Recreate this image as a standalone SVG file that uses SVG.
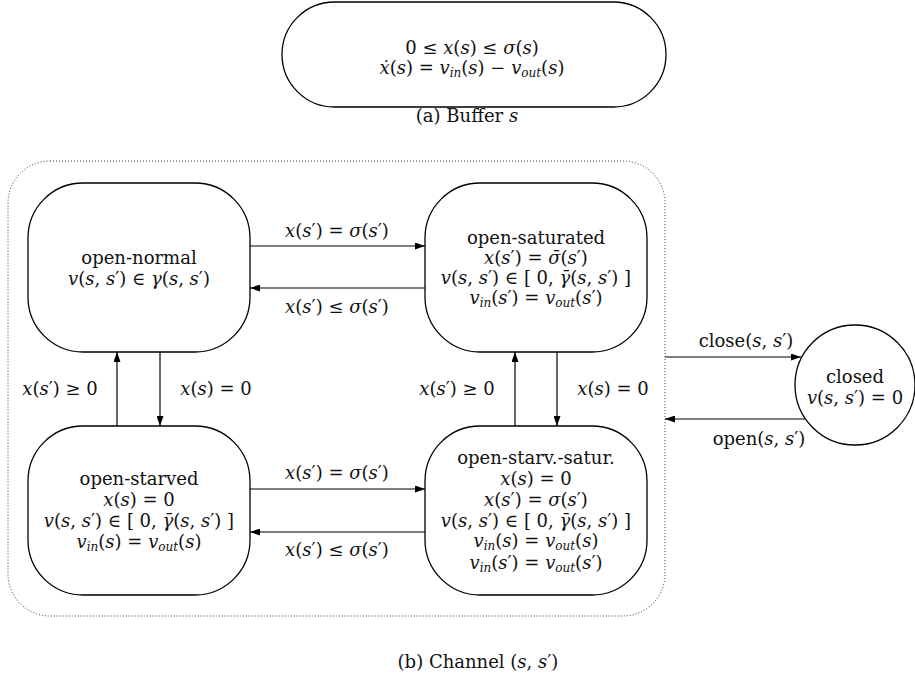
<svg xmlns="http://www.w3.org/2000/svg" width="915" height="681" viewBox="0 0 915 681">
  <defs>
    <marker id="arrow" viewBox="0 0 10 7" refX="10" refY="3.5" markerWidth="10" markerHeight="7" markerUnits="userSpaceOnUse" orient="auto">
      <path d="M0,0 L10,3.5 L0,7 Z" fill="#000"/>
    </marker>
  </defs>
  <style>
    text { font-family: 'DejaVu Serif', serif; font-size: 18px; fill: #111; text-anchor: middle; }
    .i { font-style: italic; }
    .sub { font-style: italic; font-size: 12px; }
    .state { fill: #fff; stroke: #000; stroke-width: 1.3; }
    .frame { fill: none; stroke: #333; stroke-width: 1; stroke-dasharray: 1 2; }
    .edge { fill: none; stroke: #000; stroke-width: 1.2; marker-end: url(#arrow); }
  </style>
  <rect width="915" height="681" fill="#fff"/>

  <!-- (a) buffer -->
  <g id="buffer">
    <rect class="state" x="282" y="2" width="384" height="105" rx="52.5"/>
    <text x="472" y="54">0 ≤ <tspan class="i">x</tspan>(<tspan class="i">s</tspan>) ≤ <tspan class="i">σ</tspan>(<tspan class="i">s</tspan>)</text>
    <text x="472" y="74"><tspan class="i">ẋ</tspan>(<tspan class="i">s</tspan>) = <tspan class="i">v</tspan><tspan class="sub" baseline-shift="-3">in</tspan>(<tspan class="i">s</tspan>) − <tspan class="i">v</tspan><tspan class="sub" baseline-shift="-3">out</tspan>(<tspan class="i">s</tspan>)</text>
  </g>
  <text id="caption-a" x="467" y="122">(a) Buffer <tspan class="i">s</tspan></text>

  <!-- (b) channel frame -->
  <rect id="channel" class="frame" x="8" y="161" width="657" height="455" rx="42"/>

  <g id="open-normal">
    <rect class="state" x="28" y="183" width="222" height="169" rx="55"/>
    <text x="139" y="264">open-normal</text>
    <text x="139" y="285"><tspan class="i">v</tspan>(<tspan class="i">s</tspan>, <tspan class="i">s</tspan>′) ∈ <tspan class="i">γ</tspan>(<tspan class="i">s</tspan>, <tspan class="i">s</tspan>′)</text>
  </g>

  <g id="open-saturated">
    <rect class="state" x="425" y="183" width="222" height="169" rx="55"/>
    <text x="536" y="244">open-saturated</text>
    <text x="536" y="264"><tspan class="i">x</tspan>(<tspan class="i">s</tspan>′) = <tspan class="i">σ̄</tspan>(<tspan class="i">s</tspan>′)</text>
    <text x="536" y="284"><tspan class="i">v</tspan>(<tspan class="i">s</tspan>, <tspan class="i">s</tspan>′) ∈ [ 0, <tspan class="i">γ̄</tspan>(<tspan class="i">s</tspan>, <tspan class="i">s</tspan>′) ]</text>
    <text x="536" y="304"><tspan class="i">v</tspan><tspan class="sub" baseline-shift="-3">in</tspan>(<tspan class="i">s</tspan>′) = <tspan class="i">v</tspan><tspan class="sub" baseline-shift="-3">out</tspan>(<tspan class="i">s</tspan>′)</text>
  </g>

  <g id="open-starved">
    <rect class="state" x="28" y="426" width="222" height="169" rx="55"/>
    <text x="139" y="485">open-starved</text>
    <text x="139" y="506"><tspan class="i">x</tspan>(<tspan class="i">s</tspan>) = 0</text>
    <text x="139" y="527"><tspan class="i">v</tspan>(<tspan class="i">s</tspan>, <tspan class="i">s</tspan>′) ∈ [ 0, <tspan class="i">γ̄</tspan>(<tspan class="i">s</tspan>, <tspan class="i">s</tspan>′) ]</text>
    <text x="139" y="548"><tspan class="i">v</tspan><tspan class="sub" baseline-shift="-3">in</tspan>(<tspan class="i">s</tspan>) = <tspan class="i">v</tspan><tspan class="sub" baseline-shift="-3">out</tspan>(<tspan class="i">s</tspan>)</text>
  </g>

  <g id="open-starv-satur">
    <rect class="state" x="425" y="426" width="222" height="169" rx="55"/>
    <text x="536" y="464">open-starv.-satur.</text>
    <text x="536" y="485"><tspan class="i">x</tspan>(<tspan class="i">s</tspan>) = 0</text>
    <text x="536" y="506"><tspan class="i">x</tspan>(<tspan class="i">s</tspan>′) = <tspan class="i">σ</tspan>(<tspan class="i">s</tspan>′)</text>
    <text x="536" y="527"><tspan class="i">v</tspan>(<tspan class="i">s</tspan>, <tspan class="i">s</tspan>′) ∈ [ 0, <tspan class="i">γ̄</tspan>(<tspan class="i">s</tspan>, <tspan class="i">s</tspan>′) ]</text>
    <text x="536" y="547"><tspan class="i">v</tspan><tspan class="sub" baseline-shift="-3">in</tspan>(<tspan class="i">s</tspan>) = <tspan class="i">v</tspan><tspan class="sub" baseline-shift="-3">out</tspan>(<tspan class="i">s</tspan>)</text>
    <text x="536" y="569"><tspan class="i">v</tspan><tspan class="sub" baseline-shift="-3">in</tspan>(<tspan class="i">s</tspan>′) = <tspan class="i">v</tspan><tspan class="sub" baseline-shift="-3">out</tspan>(<tspan class="i">s</tspan>′)</text>
  </g>

  <g id="closed">
    <circle class="state" cx="855" cy="385" r="60"/>
    <text x="855" y="383">closed</text>
    <text x="855" y="404"><tspan class="i">v</tspan>(<tspan class="i">s</tspan>, <tspan class="i">s</tspan>′) = 0</text>
  </g>

  <!-- transitions -->
  <g id="connectors">
    <line class="edge" x1="250" y1="246" x2="425" y2="246"/>
    <line class="edge" x1="425" y1="288" x2="250" y2="288"/>
    <line class="edge" x1="250" y1="489" x2="425" y2="489"/>
    <line class="edge" x1="425" y1="532" x2="250" y2="532"/>
    <line class="edge" x1="117" y1="426" x2="117" y2="352"/>
    <line class="edge" x1="160" y1="352" x2="160" y2="426"/>
    <line class="edge" x1="515" y1="426" x2="515" y2="352"/>
    <line class="edge" x1="557" y1="352" x2="557" y2="426"/>
    <line class="edge" x1="665" y1="357" x2="801" y2="357"/>
    <line class="edge" x1="805" y1="419" x2="665" y2="419"/>

    <text x="337" y="237"><tspan class="i">x</tspan>(<tspan class="i">s</tspan>′) = <tspan class="i">σ</tspan>(<tspan class="i">s</tspan>′)</text>
    <text x="337" y="313"><tspan class="i">x</tspan>(<tspan class="i">s</tspan>′) ≤ <tspan class="i">σ</tspan>(<tspan class="i">s</tspan>′)</text>
    <text x="337" y="479"><tspan class="i">x</tspan>(<tspan class="i">s</tspan>′) = <tspan class="i">σ</tspan>(<tspan class="i">s</tspan>′)</text>
    <text x="337" y="556"><tspan class="i">x</tspan>(<tspan class="i">s</tspan>′) ≤ <tspan class="i">σ</tspan>(<tspan class="i">s</tspan>′)</text>
    <text x="60" y="395"><tspan class="i">x</tspan>(<tspan class="i">s</tspan>′) ≥ 0</text>
    <text x="216" y="395"><tspan class="i">x</tspan>(<tspan class="i">s</tspan>) = 0</text>
    <text x="457" y="395"><tspan class="i">x</tspan>(<tspan class="i">s</tspan>′) ≥ 0</text>
    <text x="613" y="395"><tspan class="i">x</tspan>(<tspan class="i">s</tspan>) = 0</text>
    <text x="746" y="347">close(<tspan class="i">s</tspan>, <tspan class="i">s</tspan>′)</text>
    <text x="759" y="445">open(<tspan class="i">s</tspan>, <tspan class="i">s</tspan>′)</text>
  </g>

  <text id="caption-b" x="478" y="668">(b) Channel (<tspan class="i">s</tspan>, <tspan class="i">s</tspan>′)</text>
</svg>
